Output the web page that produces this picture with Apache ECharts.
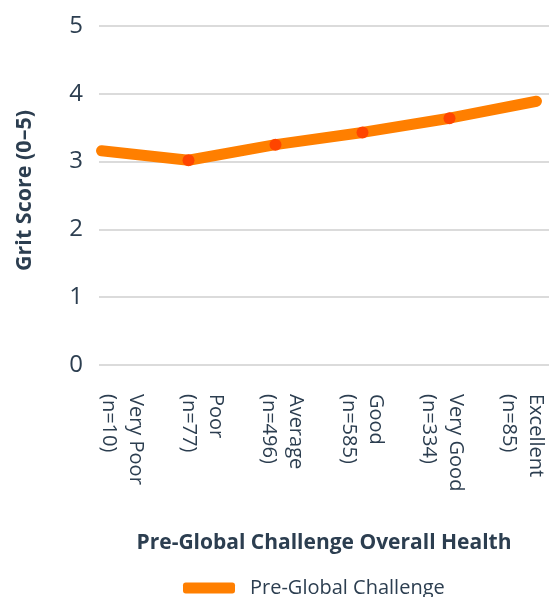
<!DOCTYPE html>
<html>
<head>
<meta charset="utf-8">
<script src="https://cdn.jsdelivr.net/npm/echarts@6/dist/echarts.min.js"></script>
<style>
html,body{margin:0;padding:0;background:#fff;}
#chart{width:549px;height:597px;}
</style>
</head>
<body>
<div id="chart"></div>
<script>
var categories = ['Very Poor\n(n=10)', 'Poor\n(n=77)', 'Average\n(n=496)', 'Good\n(n=585)', 'Very Good\n(n=334)', 'Excellent\n(n=85)'];
var gritScores = [3.16, 3.02, 3.25, 3.43, 3.64, 3.89];
var yTicks = [0, 1, 2, 3, 4, 5];
var seriesName = 'Pre-Global Challenge';
var xTitle = 'Pre-Global Challenge Overall Health';
var yTitle = 'Grit Score (0–5)';

var textColor = '#2c3e50';
var font = '"Open Sans"';

var chart = echarts.init(document.getElementById('chart'), null, {renderer: 'canvas'});

var lineData = gritScores.map(function (v, i) {
  var endPoint = (i === 0 || i === gritScores.length - 1);
  return { value: [i, v], symbolSize: endPoint ? 0 : 12 };
});

chart.setOption({
  animation: false,
  backgroundColor: '#fff',
  textStyle: { fontFamily: font },
  grid: [
    { left: 99, right: 0, top: 26, bottom: 232, containLabel: false },
    { left: 122.5, right: 15, top: 26, bottom: 232, containLabel: false }
  ],
  legend: {
    show: true,
    left: 178,
    top: 573,
    itemWidth: 52,
    itemHeight: 11,
    icon: 'roundRect',
    data: [{ name: seriesName, itemStyle: { color: '#ff7f00' } }],
    textStyle: { color: textColor, fontSize: 20, fontFamily: font, padding: [0, 0, 0, 10] }
  },
  xAxis: [
    {
      gridIndex: 0,
      type: 'value',
      min: -0.0287,
      max: 5.1437,
      axisLine: { show: false },
      axisTick: { show: false },
      axisLabel: { show: false },
      splitLine: { show: false },
      name: xTitle,
      nameLocation: 'middle',
      nameGap: 168,
      nameTextStyle: { color: textColor, fontSize: 21, fontWeight: 'bold', fontFamily: font }
    },
    {
      gridIndex: 1,
      type: 'category',
      boundaryGap: false,
      data: categories,
      axisLine: { show: false },
      axisTick: { show: false },
      splitLine: { show: false },
      axisLabel: {
        rotate: -90,
        margin: 29,
        interval: 0,
        color: textColor,
        fontSize: 20,
        lineHeight: 27,
        fontFamily: font
      }
    }
  ],
  yAxis: [
    {
      gridIndex: 0,
      type: 'value',
      min: 0,
      max: 5,
      interval: 1,
      axisLine: { show: false },
      axisTick: { show: false },
      axisLabel: {
        color: textColor,
        fontSize: 24,
        margin: 16,
        fontFamily: font,
        customValues: yTicks
      },
      splitLine: { show: true, lineStyle: { color: '#cfcfcf', width: 1.5 } },
      name: yTitle,
      nameLocation: 'middle',
      nameGap: 63,
      nameRotate: 90,
      nameTextStyle: { color: textColor, fontSize: 21.5, fontWeight: 'bold', fontFamily: font, padding: [0, 0, 0, 10] }
    },
    {
      gridIndex: 1,
      type: 'value',
      show: false,
      min: 0,
      max: 5
    }
  ],
  series: [
    {
      name: seriesName,
      type: 'line',
      xAxisIndex: 0,
      yAxisIndex: 0,
      data: lineData,
      symbol: 'circle',
      showSymbol: true,
      lineStyle: { color: '#ff7f00', width: 11, cap: 'round', join: 'round' },
      itemStyle: { color: '#ff4500' },
      emphasis: { disabled: true }
    }
  ]
});
</script>
</body>
</html>
